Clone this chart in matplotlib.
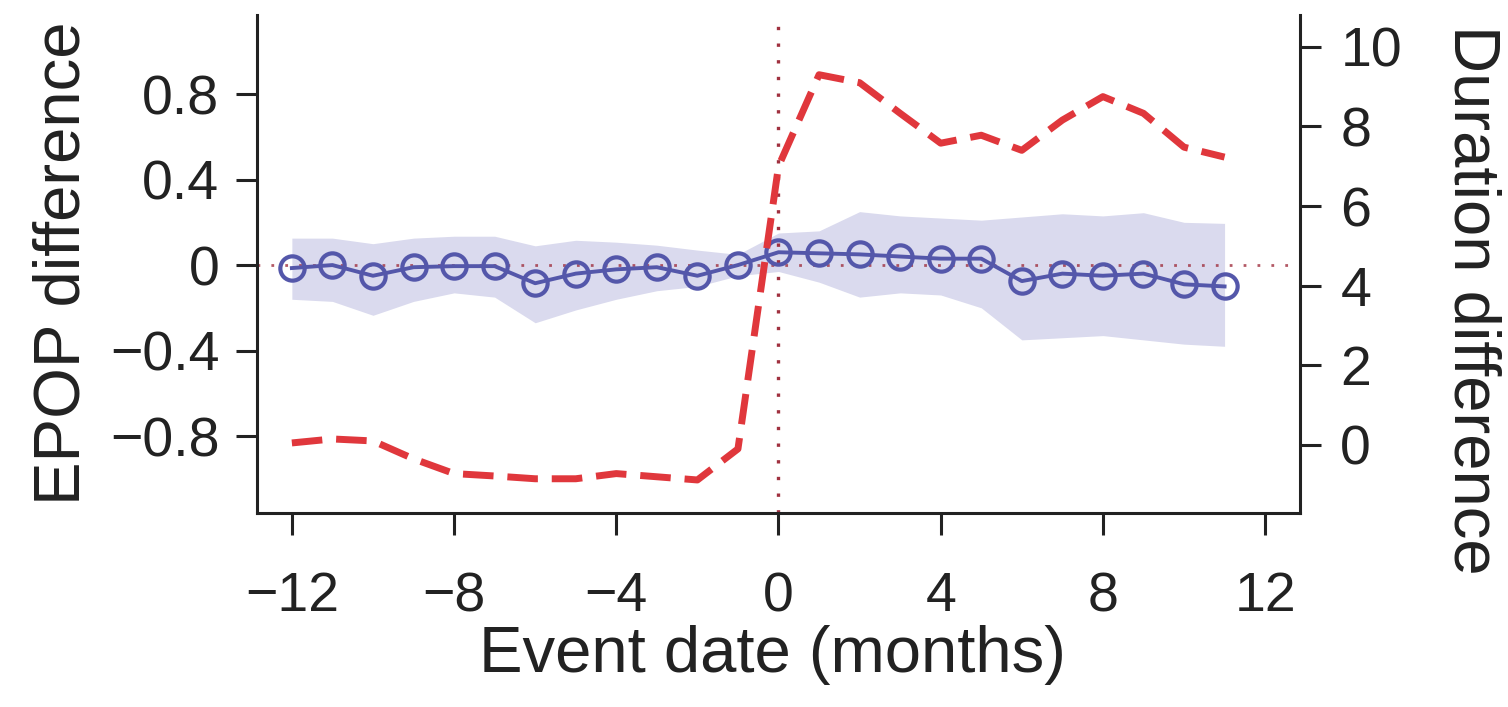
import matplotlib
matplotlib.use("Agg")
import matplotlib.pyplot as plt

# ---------------- data ----------------
months = list(range(-12, 12))
epop_diff = [-0.014, 0.0, -0.05, -0.01, -0.005, -0.005, -0.085, -0.04, -0.02, -0.01, -0.05, 0.0,
             0.06, 0.055, 0.05, 0.04, 0.03, 0.03, -0.075, -0.04, -0.05, -0.04, -0.09, -0.10]
epop_upper = [0.126, 0.126, 0.10, 0.126, 0.135, 0.135, 0.09, 0.116, 0.107, 0.093, 0.07, 0.05,
              0.15, 0.16, 0.25, 0.23, 0.22, 0.21, 0.225, 0.24, 0.23, 0.245, 0.20, 0.195]
epop_lower = [-0.16, -0.17, -0.235, -0.17, -0.13, -0.15, -0.27, -0.21, -0.16, -0.12, -0.10, -0.05,
              -0.03, -0.08, -0.15, -0.13, -0.14, -0.20, -0.35, -0.34, -0.33, -0.35, -0.37, -0.38]
duration_diff = [0.05, 0.15, 0.1, -0.35, -0.72, -0.78, -0.85, -0.85, -0.72, -0.8, -0.88, -0.1,
                 7.0, 9.3, 9.1, 8.33, 7.58, 7.78, 7.4, 8.16, 8.75, 8.33, 7.48, 7.23]

x_ticks = [-12, -8, -4, 0, 4, 8, 12]
x_ticklabels = ["\u221212", "\u22128", "\u22124", "0", "4", "8", "12"]
left_ticks = [-0.8, -0.4, 0, 0.4, 0.8]
left_ticklabels = ["\u22120.8", "\u22120.4", "0", "0.4", "0.8"]
right_ticks = [0, 2, 4, 6, 8, 10]
right_ticklabels = ["0", "2", "4", "6", "8", "10"]

x_label = "Event date (months)"
left_label = "EPOP difference"
right_label = "Duration difference"

# ---------------- style ----------------
plt.rcParams["font.family"] = ["Liberation Sans", "DejaVu Sans"]
BLUE = "#5457aa"
RED = "#e0373c"
BAND = "#dadaee"
DOT = "#a0303f"
SPINE = "#222222"
W = 1508
H = 707

fig = plt.figure(figsize=(W / 100, H / 100), dpi=100)
l, r, b, t = 257 / W, 1300 / W, 1 - 513 / H, 1 - 15 / H
ax = fig.add_axes([l, b, r - l, t - b])

ax.fill_between(months, epop_lower, epop_upper, color=BAND, lw=0, zorder=1)
ax.axhline(0, color=DOT, ls=(0, (1, 4)), lw=2.0, alpha=0.8, zorder=2)
ax.axvline(0, color=DOT, ls=(0, (1, 4)), lw=2.4, zorder=2)
ax.plot(months, epop_diff, color=BLUE, lw=2.8, marker="o", ms=17.5, mfc="none",
        mec=BLUE, mew=3.0, zorder=3)

ax.set_xlim(-12.86, 12.86)
ax.set_ylim(-1.16, 1.17)
ax.set_xticks(x_ticks)
ax.set_xticklabels(x_ticklabels)
ax.set_yticks(left_ticks)
ax.set_yticklabels(left_ticklabels)

ax2 = ax.twinx()
ax2.plot(months, duration_diff, color=RED, lw=5.0, dashes=(4.4, 2.0),
         dash_capstyle="butt", zorder=4)
ax2.set_ylim(-1.71, 10.8)
ax2.set_yticks(right_ticks)
ax2.set_yticklabels(right_ticklabels)

for s in ("top", "right"):
    ax.spines[s].set_visible(False)
for s in ("top", "left", "bottom"):
    ax2.spines[s].set_visible(False)
for s in ("left", "bottom"):
    ax.spines[s].set_linewidth(2.2)
    ax.spines[s].set_color(SPINE)
ax2.spines["right"].set_linewidth(2.2)
ax2.spines["right"].set_color(SPINE)

ax.tick_params(axis="x", direction="out", length=16, width=2.2, pad=26,
               labelsize=40, colors=SPINE)
ax.tick_params(axis="y", direction="out", length=15, width=2.2, pad=12,
               labelsize=40, colors=SPINE)
ax2.tick_params(axis="y", direction="out", length=15, width=2.2, pad=14,
                labelsize=40, colors=SPINE)

fig.text(772 / W, 1 - 672 / H, x_label, fontsize=47, ha="center", va="baseline",
         color=SPINE)
fig.text(80 / W, 1 - 263 / H, left_label, fontsize=47, rotation=90,
         rotation_mode="anchor", ha="center", va="baseline", color=SPINE)
fig.text(1455 / W, 1 - 300 / H, right_label, fontsize=47, rotation=270,
         rotation_mode="anchor", ha="center", va="baseline", color=SPINE)

fig.savefig("out.png", dpi=100)
